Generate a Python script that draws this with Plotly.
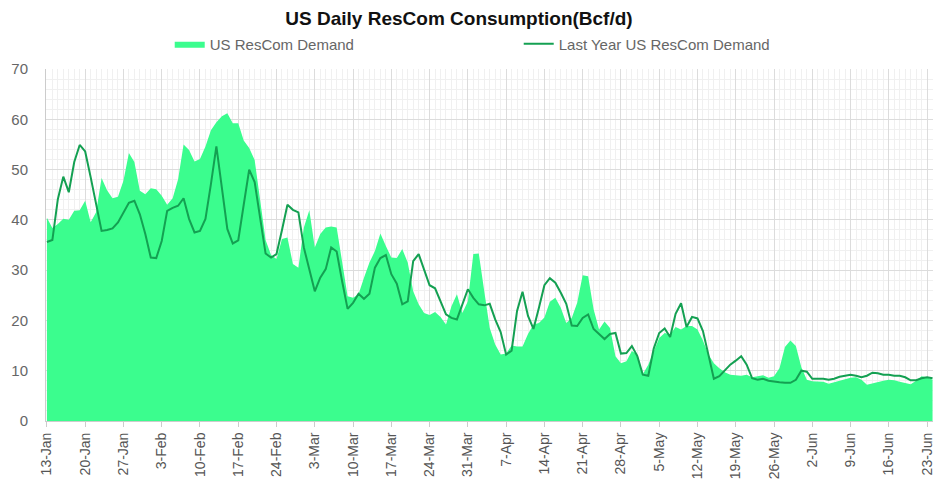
import pandas as pd
import plotly.graph_objects as go

# ── Data (Bcf/d), one value per day starting 13-Jan ──────────────────
start_date = "2023-01-13"

rescom_demand = [
    40.4, 38.4, 39.2, 40.2, 40.0, 41.8, 41.9, 43.8, 39.5, 41.5,
    48.3, 45.9, 44.3, 44.6, 47.8, 53.3, 51.5, 45.8, 45.1, 46.3,
    46.1, 44.8, 43.0, 44.3, 48.1, 55.0, 53.9, 51.6, 52.1, 54.6,
    57.8, 59.4, 60.6, 61.2, 59.2, 59.2, 55.8, 54.3, 51.9, 44.0,
    36.0, 33.0, 32.2, 36.2, 36.5, 31.2, 30.5, 38.5, 41.9, 34.5,
    37.2, 38.5, 38.7, 38.5, 31.8, 24.8, 24.5, 25.2, 28.5, 31.5,
    33.8, 37.3, 34.8, 32.5, 32.4, 34.2, 31.5, 25.8, 23.2, 21.5,
    21.1, 21.7, 20.7, 19.2, 22.8, 25.2, 21.5, 23.8, 33.2, 33.3,
    25.8, 18.5, 15.2, 13.2, 13.4, 15.0, 14.8, 14.8, 17.3, 19.2,
    19.5, 20.6, 23.7, 24.5, 22.5, 19.5, 20.5, 23.5, 29.0, 28.8,
    22.2, 18.2, 19.8, 18.5, 12.9, 11.5, 11.9, 13.9, 13.2, 9.3,
    11.2, 13.9, 16.5, 17.5, 17.2, 18.7, 18.2, 18.9, 18.9, 18.2,
    16.0, 13.2, 11.5, 10.5, 9.7, 9.2, 9.1, 9.0, 9.2, 8.7,
    8.9, 9.1, 8.6, 8.9, 10.5, 14.7, 16.0, 14.9, 10.7, 8.2,
    7.9, 7.8, 7.8, 7.4, 7.7, 8.0, 8.2, 8.6, 8.7, 8.2,
    7.2, 7.5, 7.7, 8.0, 8.2, 8.1, 7.8, 7.5, 7.3, 8.0,
    8.9, 8.7, 8.2,
]

last_year_demand = [
    35.6, 36.0, 44.1, 48.6, 45.5, 51.5, 54.9, 53.6, 48.5, 43.0,
    37.8, 38.0, 38.3, 39.5, 41.5, 43.4, 43.8, 41.1, 37.2, 32.5,
    32.4, 35.8, 41.8, 42.4, 42.8, 44.3, 40.2, 37.5, 37.8, 40.2,
    47.1, 54.6, 46.4, 38.2, 35.3, 35.9, 43.0, 50.0, 47.5, 40.5,
    33.3, 32.5, 33.2, 38.0, 43.0, 42.0, 41.5, 34.5, 30.2, 25.8,
    28.5, 30.2, 34.5, 33.7, 27.8, 22.3, 23.5, 25.3, 24.3, 25.3,
    30.5, 32.4, 33.0, 29.2, 27.3, 23.2, 23.8, 31.8, 33.2, 30.2,
    27.0, 26.4, 23.8, 21.2, 20.5, 20.2, 23.2, 26.2, 24.5, 23.2,
    23.0, 23.3, 20.2, 17.7, 13.2, 14.0, 21.9, 25.7, 20.9, 18.3,
    22.5, 27.0, 28.4, 27.5, 25.5, 23.3, 19.0, 18.9, 20.5, 21.2,
    18.3, 17.2, 16.3, 17.3, 17.5, 13.4, 13.5, 14.9, 12.9, 9.2,
    9.0, 14.4, 17.5, 18.4, 16.7, 21.3, 23.4, 18.7, 20.7, 20.4,
    17.9, 13.2, 8.4, 8.9, 10.0, 11.2, 12.0, 12.9, 11.2, 8.5,
    8.2, 8.4, 8.0, 7.8, 7.7, 7.6, 7.6, 8.2, 10.0, 9.8,
    8.4, 8.4, 8.4, 8.2, 8.4, 8.8, 9.0, 9.2, 9.0, 8.7,
    9.0, 9.6, 9.5, 9.2, 9.2, 9.0, 9.0, 8.7, 8.1, 8.1,
    8.5, 8.7, 8.5,
]

dates = pd.date_range(start_date, periods=len(rescom_demand), freq="D")

# ── Styling ──────────────────────────────────────────────────────────
_AREA_COLOR = "#3bfd8e"
_LINE_COLOR = "#14a052"
_GRID_MAJOR = "#dcdcdc"
_GRID_MINOR = "#f0f0f0"
_TEXT_GREY = "#666666"
_FONT = "Liberation Sans, Arial, sans-serif"
DAY_MS = 86400000

fig = go.Figure()

fig.add_trace(go.Scatter(
    x=dates, y=rescom_demand,
    mode="lines",
    name="US ResCom Demand",
    line=dict(width=0, color=_AREA_COLOR),
    fill="tozeroy",
    fillcolor=_AREA_COLOR,
))

fig.add_trace(go.Scatter(
    x=dates, y=last_year_demand,
    mode="lines",
    name="Last Year US ResCom Demand",
    line=dict(width=2, color=_LINE_COLOR),
))

fig.update_layout(
    width=935, height=479,
    margin=dict(l=46, r=0, t=69, b=58),
    paper_bgcolor="white",
    plot_bgcolor="white",
    font=dict(family=_FONT, color=_TEXT_GREY),
    title=dict(
        text="US Daily ResCom Consumption(Bcf/d)",
        x=459 / 935, xref="container", xanchor="center",
        y=1 - 18 / 479, yref="container", yanchor="middle",
        font=dict(family=_FONT, size=19, color="#111111", weight="bold"),
    ),
    legend=dict(
        orientation="h",
        x=(170 - 46) / 889, xanchor="left",
        y=1 + 25 / 352, yanchor="middle",
        font=dict(size=15, color=_TEXT_GREY),
        entrywidth=304, entrywidthmode="pixels",
        bgcolor="rgba(0,0,0,0)",
    ),
    xaxis=dict(
        type="date",
        range=["2023-01-12 20:00", "2023-06-24 02:00"],
        tick0=start_date, dtick=7 * DAY_MS,
        tickformat="%-d-%b",
        tickangle=-90,
        tickfont=dict(size=14, color="#555555"),
        ticklabeloverflow="allow",
        ticks="outside", ticklen=5, tickcolor="#cccccc",
        showgrid=True, gridcolor=_GRID_MAJOR, gridwidth=1,
        minor=dict(dtick=DAY_MS, showgrid=True, gridcolor=_GRID_MINOR),
        showline=True, linecolor="#cccccc", linewidth=1,
        zeroline=False,
    ),
    yaxis=dict(
        range=[0, 70], dtick=10,
        tickfont=dict(size=15, color=_TEXT_GREY),
        ticks="", ticklabelstandoff=14,
        showgrid=True, gridcolor=_GRID_MAJOR, gridwidth=1,
        minor=dict(dtick=2, showgrid=True, gridcolor=_GRID_MINOR),
        showline=True, linecolor="#cccccc", linewidth=1,
        zeroline=False,
    ),
    showlegend=True,
)

# the page's default body margin would push the chart 8px off the window
fig.write_html(
    "out.html",
    config={"displayModeBar": False},
    post_script="document.body.style.margin = '0';",
)
